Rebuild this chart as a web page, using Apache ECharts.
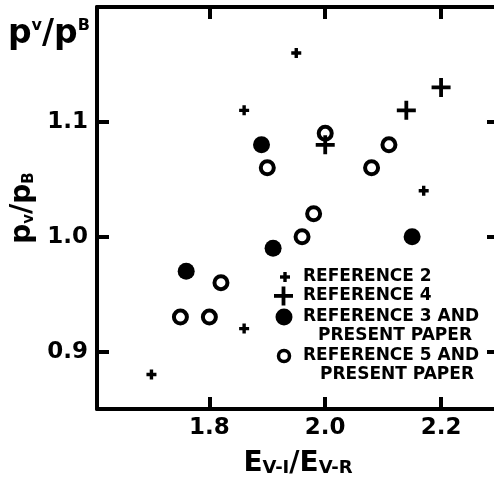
<!DOCTYPE html>
<html><head><meta charset="utf-8">
<script src="https://cdn.jsdelivr.net/npm/echarts@6/dist/echarts.min.js"></script>
<style>html,body{margin:0;padding:0;background:#fff}#c{width:494px;height:482px}</style>
</head><body><div id="c"></div>
<script>
// Reference 2 (small plus)
const ref2X = [1.70, 1.86, 1.86, 1.95, 2.17];
const ref2Y = [0.88, 0.92, 1.11, 1.16, 1.04];
// Reference 4 (large plus)
const ref4X = [2.00, 2.14, 2.20];
const ref4Y = [1.08, 1.11, 1.13];
// Reference 3 and present paper (filled circle)
const ref3X = [1.76, 1.89, 1.91, 2.15];
const ref3Y = [0.97, 1.08, 0.99, 1.00];
// Reference 5 and present paper (open circle)
const ref5X = [1.75, 1.80, 1.82, 1.90, 1.96, 1.98, 2.00, 2.08, 2.11];
const ref5Y = [0.93, 0.93, 0.96, 1.06, 1.00, 1.02, 1.09, 1.06, 1.08];
// tick labels
const xTicks = [1.8, 2.0, 2.2];
const yTicks = [0.9, 1.0, 1.1];
const legendNames = ['REFERENCE 2', 'REFERENCE 4', 'REFERENCE 3 AND', 'PRESENT PAPER', 'REFERENCE 5 AND', 'PRESENT PAPER'];

const zip = (xs, ys) => xs.map((x, i) => [x, ys[i]]);
const FONT = 'DejaVu Sans';
const plusSmall = 'path://M3.3,0H6.7V3.3H10V6.7H6.7V10H3.3V6.7H0V3.3H3.3Z';
const plusBig = 'path://M7.6,0H11.4V7.6H19V11.4H11.4V19H7.6V11.4H0V7.6H7.6Z';

const axisLine = {show: true, lineStyle: {color: '#000', width: 4}};
const tickX = {show: true, inside: true, length: 12, lineStyle: {color: '#000', width: 4}, customValues: xTicks};
const tickY = {show: true, inside: true, length: 12, lineStyle: {color: '#000', width: 4}, customValues: yTicks};
const labelStyle = {fontSize: 23, fontWeight: 'bold', color: '#000', fontFamily: FONT};

const chart = echarts.init(document.getElementById('c'), null, {renderer: 'canvas'});
chart.setOption({
  animation: false,
  backgroundColor: '#fff',
  grid: {left: 97, top: 7, width: 402, height: 402, containLabel: false, outerBoundsMode: 'none'},
  xAxis: [{
    type: 'value', position: 'bottom', min: 1.606, max: 2.3,
    axisLine, axisTick: tickX, splitLine: {show: false},
    axisLabel: Object.assign({customValues: xTicks, margin: 8, formatter: v => v.toFixed(1)}, labelStyle),
    name: '{a|E}{s|V-I}{a|/E}{s|V-R}', nameLocation: 'middle', nameGap: 41,
    nameTextStyle: {rich: {
      a: {fontSize: 28, fontWeight: 'bold', fontFamily: FONT, color: '#000'},
      s: {fontSize: 18, fontWeight: 'bold', fontFamily: FONT, color: '#000', verticalAlign: 'bottom', padding: [0, 0, 1, 0]}
    }}
  }, {
    type: 'value', position: 'top', min: 1.606, max: 2.3,
    axisLine, axisTick: tickX, splitLine: {show: false}, axisLabel: {show: false}
  }],
  yAxis: [{
    type: 'value', position: 'left', min: 0.85, max: 1.2,
    axisLine, axisTick: tickY, splitLine: {show: false},
    axisLabel: Object.assign({customValues: yTicks, margin: 9, formatter: v => v.toFixed(1)}, labelStyle),
    name: '{a|p}{s|v}{a|/p}{s|B}', nameLocation: 'middle', nameGap: 41, nameRotate: 90,
    nameTextStyle: {rich: {
      a: {fontSize: 28, fontWeight: 'bold', fontFamily: FONT, color: '#000'},
      s: {fontSize: 15, fontWeight: 'bold', fontFamily: FONT, color: '#000', verticalAlign: 'bottom'}
    }}
  }, {
    type: 'value', position: 'right', min: 0.85, max: 1.2,
    axisLine, axisTick: tickY, splitLine: {show: false}, axisLabel: {show: false}
  }],
  series: [
    {name: 'REFERENCE 5 AND PRESENT PAPER', type: 'scatter', data: zip(ref5X, ref5Y), symbol: 'circle', symbolSize: 13,
     itemStyle: {color: '#fff', borderColor: '#000', borderWidth: 4, opacity: 1}, z: 3},
    {name: 'REFERENCE 3 AND PRESENT PAPER', type: 'scatter', data: zip(ref3X, ref3Y), symbol: 'circle', symbolSize: 17,
     itemStyle: {color: '#000', opacity: 1}, z: 3},
    {name: 'REFERENCE 2', type: 'scatter', data: zip(ref2X, ref2Y), symbol: plusSmall, symbolSize: 10,
     itemStyle: {color: '#000', opacity: 1}, z: 4},
    {name: 'REFERENCE 4', type: 'scatter', data: zip(ref4X, ref4Y), symbol: plusBig, symbolSize: 19,
     itemStyle: {color: '#000', opacity: 1}, z: 4}
  ],
  graphic: [
    {type: 'text', left: 8, top: 18, style: {
      text: '{a|p}{s|v}{a|/p}{s|B}', fill: '#000',
      rich: {
        a: {fontSize: 33, fontWeight: 'bold', fontFamily: FONT, fill: '#000'},
        s: {fontSize: 16, fontWeight: 'bold', fontFamily: FONT, fill: '#000', verticalAlign: 'top'}
      }}},
    // legend markers
    {type: 'rect', shape: {x: 280, y: 275.3, width: 10, height: 3.4}, style: {fill: '#000'}},
    {type: 'rect', shape: {x: 283.3, y: 272, width: 3.4, height: 10}, style: {fill: '#000'}},
    {type: 'rect', shape: {x: 274, y: 294, width: 19, height: 3.8}, style: {fill: '#000'}},
    {type: 'rect', shape: {x: 281.6, y: 286.5, width: 3.8, height: 19}, style: {fill: '#000'}},
    {type: 'circle', shape: {cx: 284, cy: 317, r: 8.5}, style: {fill: '#000'}},
    {type: 'circle', shape: {cx: 284, cy: 356, r: 5.5}, style: {fill: '#fff', stroke: '#000', lineWidth: 3.5}},
    // legend texts
    ...[[303, 277, 0], [303, 296, 1], [303, 317, 2], [318, 336, 3], [303, 356, 4], [320, 375, 5]].map(([x, y, i]) => ({
      type: 'text', x: x, y: y, style: {
        text: legendNames[i], fill: '#000', fontSize: 17, fontWeight: 'bold', fontFamily: FONT,
        verticalAlign: 'middle', align: 'left'
      }
    }))
  ]
});
</script></body></html>
